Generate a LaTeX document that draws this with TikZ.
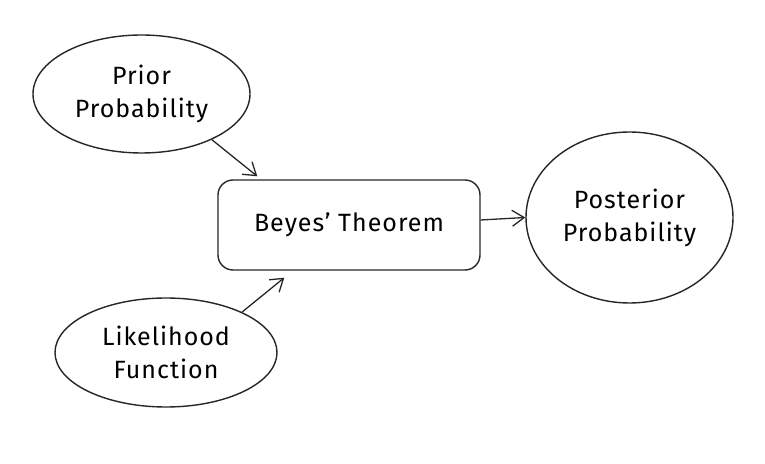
\documentclass[tikz,border=0pt]{standalone}
\usepackage{fontspec}
\setmainfont{Fira Sans}[LetterSpace=4]
\usetikzlibrary{arrows.meta,positioning,shapes}

\begin{document}
\begin{tikzpicture}[x=1pt,y=1pt,
    every node/.style={font=\fontsize{25}{33}\selectfont, align=center},
    sketch/.style={draw=black!85, line width=1.4pt},
    flow/.style={-{Straight Barb[length=12pt,width=16pt]}, draw=black!85, line width=1.3pt}]
    \useasboundingbox (0,0) rectangle (765,463);
    % the three inputs/outputs
    \node (prior_prob) [ellipse, sketch, inner sep=0pt,
                        minimum width=217pt, minimum height=118pt]
          at (141.5,369) {Prior\\Probability};
    \node (beyes_theorem) [rectangle, rounded corners=15pt, sketch,
                           minimum width=262pt, minimum height=90pt]
          at (349,238) {Beyes' Theorem};
    \node (posterior_prob) [ellipse, sketch, inner sep=0pt,
                            minimum width=207pt, minimum height=171pt]
          at (629.5,245.5) {Posterior\\Probability};
    \node (likelihood_fn) [ellipse, sketch, inner sep=0pt,
                           minimum width=222pt, minimum height=109pt]
          at (166,110.5) {Likelihood\\Function};
    % arrows
    \draw [flow] (prior_prob.-33) -- ([xshift=40pt,yshift=3pt]beyes_theorem.north west);
    \draw [flow] (likelihood_fn.28) -- ([xshift=67pt,yshift=-7pt]beyes_theorem.south west);
    \draw [flow] ([yshift=5pt]beyes_theorem.east) -- (posterior_prob.west);
\end{tikzpicture}
\end{document}
